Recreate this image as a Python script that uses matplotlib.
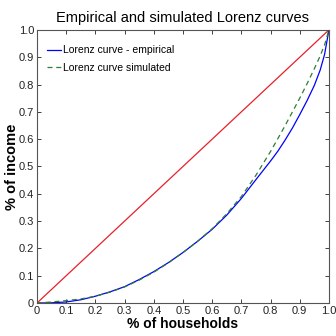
import matplotlib
matplotlib.use("Agg")
import matplotlib.pyplot as plt
from matplotlib import font_manager

names = sorted({f.name for f in font_manager.fontManager.ttflist})
narrow = 'Liberation Sans Narrow' if 'Liberation Sans Narrow' in names else 'Liberation Sans'
plt.rcParams['font.family'] = ['Liberation Sans', 'DejaVu Sans']

share_households = [0, 0.05, 0.1, 0.15, 0.2, 0.25, 0.3, 0.35, 0.4, 0.45, 0.5, 0.55,
                    0.6, 0.65, 0.7, 0.75, 0.8, 0.825, 0.85, 0.875, 0.9, 0.925, 0.95,
                    0.97, 0.985, 1.0]
lorenz_empirical = [0, 0.001, 0.004, 0.012, 0.025, 0.041, 0.06, 0.086, 0.115, 0.148, 0.185,
                    0.226, 0.27, 0.322, 0.383, 0.452, 0.52, 0.556, 0.597, 0.641, 0.69,
                    0.741, 0.797, 0.853, 0.91, 1.0]
lorenz_simulated = [0, 0.004, 0.009, 0.015, 0.025, 0.04, 0.059, 0.084, 0.113, 0.147, 0.185,
                    0.226, 0.272, 0.327, 0.39, 0.468, 0.555, 0.602, 0.65, 0.7, 0.75,
                    0.803, 0.858, 0.905, 0.945, 1.0]
equality = [0, 1]

ticks = [0, 0.1, 0.2, 0.3, 0.4, 0.5, 0.6, 0.7, 0.8, 0.9, 1.0]
tick_labels = ['0', '0.1', '0.2', '0.3', '0.4', '0.5', '0.6', '0.7', '0.8', '0.9', '1.0']

fig = plt.figure(figsize=(3.36, 3.36), dpi=100)
ax = fig.add_axes([0.110, 0.098, 0.869, 0.813])

ax.plot(share_households, lorenz_empirical, color='#0000ff', lw=0.9,
        label='Lorenz curve - empirical')
ax.plot(share_households, lorenz_simulated, color='#2e7d32', lw=0.9, ls=(0, (4, 3)),
        label='Lorenz curve simulated')
ax.plot(equality, equality, color='#e8202a', lw=0.9)

ax.set_xlim(0, 1)
ax.set_ylim(0, 1)
ax.set_xticks(ticks)
ax.set_xticklabels(tick_labels, family=narrow)
ax.set_yticks(ticks)
ax.set_yticklabels(tick_labels, family=narrow)
ax.tick_params(direction='in', length=3, width=0.6, top=True, right=True,
               labelsize=9 if narrow != 'Liberation Sans' else 8, colors='#222222', pad=2)
for s in ax.spines.values():
    s.set_color('#555555')
    s.set_linewidth(0.8)

ax.set_title('Empirical and simulated Lorenz curves', fontsize=10.5, pad=6)
ax.set_xlabel('% of households', fontsize=10, fontweight='bold', labelpad=1)
ax.set_ylabel('% of income', fontsize=10.5, fontweight='bold', labelpad=0)

ax.legend(loc='upper left', frameon=False, handlelength=1.3,
          handletextpad=0.2, borderaxespad=0.3, labelspacing=0.7,
          bbox_to_anchor=(0.01, 0.97), prop={'family': narrow, 'size': 7.5})

fig.savefig('out.png', dpi=100)
